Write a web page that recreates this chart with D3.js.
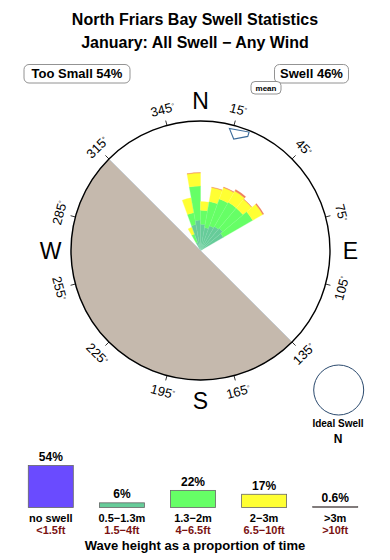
<!DOCTYPE html>
<html>
<head>
<meta charset="utf-8">
<script src="https://cdnjs.cloudflare.com/ajax/libs/d3/7.8.5/d3.min.js"></script>
<style>
body{margin:0;background:#fff;}
svg{display:block;font-family:"Liberation Sans",Arial,Helvetica,sans-serif;}
</style>
</head>
<body>
<svg width="390" height="560"></svg>
<script>
// titles
var title1="North Friars Bay Swell Statistics";
var title2="January: All Swell \u2212 Any Wind";

// rose data: direction bins (centre, deg) and % of time per wave band
var dirs=[335,345,355,5,15,25,35,45,55];
var band1=[0.1,0.9,1.2,0.9,0.7,0.9,1.0,1.1,0.9];   // 0.5-1.3m
var band2=[0.3,1.0,4.2,1.2,2.5,3.0,3.0,2.9,3.8];   // 1.3-2m
var band3=[0.4,1.8,2.4,1.0,2.1,1.9,2.1,1.8,2.0];   // 2-3m
var band4=[0,0,0.05,0,0.05,0.1,0.3,0.05,0.2];      // >3m
var bandColors=["#66cc99","#66ff66","#ffff33","#ef7f5a"];
var rMax=21.7;   // % at the outer ring

var tickAngles=[15,45,75,105,135,165,195,225,255,285,315,345];
var compass=[["N",0],["E",90],["S",180],["W",270]];
var shadeFrom=135, shadeTo=315;   // shaded (sheltered) sector
var meanDir=18;

var tooSmall="Too Small 54%";
var swellText="Swell 46%";

// legend
var legendLabels=["no swell","0.5\u22121.3m","1.3\u22122m","2\u22123m",">3m"];
var legendFeet=["<1.5ft","1.5\u22124ft","4\u22126.5ft","6.5\u221210ft",">10ft"];
var legendPct=[54,6,22,17,0.6];
var legendText=["54%","6%","22%","17%","0.6%"];
var legendColors=["#6a4bff","#66cc99","#66ff66","#ffff33","#d9a0a0"];

var svg=d3.select("svg");
var cx=200.5, cy=250.5, R=129.5;
var rad=function(a){return a*Math.PI/180;};

// titles
svg.append("text").attr("x",195).attr("y",25).attr("text-anchor","middle")
  .style("font-weight","bold").style("font-size","16px").text(title1);
svg.append("text").attr("x",195).attr("y",48).attr("text-anchor","middle")
  .style("font-weight","bold").style("font-size","16px").text(title2);

// boxes
var box=function(x,y,w,h,txt,fs,r){
  svg.append("rect").attr("x",x).attr("y",y).attr("width",w).attr("height",h)
    .attr("rx",r).attr("fill","#fff").attr("stroke","#777").attr("stroke-width",0.8);
  svg.append("text").attr("x",x+w/2).attr("y",y+h/2).attr("dy","0.36em")
    .attr("text-anchor","middle").style("font-weight","bold").style("font-size",fs+"px").text(txt);
};
box(24,64.5,106,18.5,tooSmall,13,5);
box(274.5,64.5,74,18.5,swellText,13,5);
box(251,81.5,30,12.5,"mean",8,4);

var plot=svg.append("g").attr("transform","translate("+cx+","+cy+")");

// rose
var rScale=d3.scaleSqrt().domain([0,rMax]).range([0,R]);
var arc=d3.arc();
var bands=[band1,band2,band3,band4];
var segs=[];
for(var i=0;i<dirs.length;i++){
  var cum=0;
  for(var b=0;b<bands.length;b++){
    var v=bands[b][i];
    if(v>0){
      segs.push({dir:dirs[i],lo:cum,hi:cum+v,color:bandColors[b]});
    }
    cum+=v;
  }
}
plot.selectAll("path.seg").data(segs).enter().append("path")
  .attr("class","seg")
  .attr("d",function(d){
    return arc({innerRadius:rScale(d.lo),outerRadius:rScale(d.hi),
      startAngle:rad(d.dir-5),endAngle:rad(d.dir+5)});
  })
  .attr("fill",function(d){return d.color;})
  .attr("stroke",function(d){return d.color;})
  .attr("stroke-width",0.3);
// faint bin dividers
plot.selectAll("path.div").data(dirs).enter().append("path")
  .attr("class","div")
  .attr("d",function(d,i){
    var tot=band1[i]+band2[i]+band3[i]+band4[i];
    var r=rScale(tot);
    return "M0,0L"+(r*Math.sin(rad(d-5)))+","+(-r*Math.cos(rad(d-5)));
  })
  .attr("stroke","#ffffff").attr("stroke-opacity",0.18).attr("stroke-width",0.5);

// sheltered sector
plot.append("path")
  .attr("d",arc({innerRadius:0,outerRadius:R,startAngle:rad(shadeFrom),endAngle:rad(shadeTo)}))
  .attr("fill","#c5b9ad").attr("stroke","#b4c2d0").attr("stroke-width",0.6);

// outer ring
plot.append("circle").attr("r",R).attr("fill","none").attr("stroke","#000").attr("stroke-width",1.4);

// ticks
plot.selectAll("line.tick").data(tickAngles).enter().append("line")
  .attr("class","tick")
  .attr("x1",function(d){return R*Math.sin(rad(d));})
  .attr("y1",function(d){return -R*Math.cos(rad(d));})
  .attr("x2",function(d){return (R+5)*Math.sin(rad(d));})
  .attr("y2",function(d){return -(R+5)*Math.cos(rad(d));})
  .attr("stroke","#000").attr("stroke-width",0.8);

var lbl=plot.selectAll("text.deg").data(tickAngles).enter().append("text")
  .attr("class","deg")
  .attr("text-anchor","middle")
  .attr("transform",function(d){
    var rot=d;
    if(rot>90&&rot<270){rot-=180;}else if(rot>=270){rot-=360;}
    var x=146*Math.sin(rad(d)), y=-146*Math.cos(rad(d));
    return "translate("+x+","+y+")rotate("+rot+")";
  })
  .attr("dy","0.35em")
  .style("font-size","13px");
lbl.append("tspan").text(function(d){return d;});
lbl.append("tspan").attr("dy","-0.45em").style("font-size","7px").text("\u00b0");

plot.selectAll("text.cmp").data(compass).enter().append("text")
  .attr("class","cmp")
  .attr("x",function(d){return 150*Math.sin(rad(d[1]));})
  .attr("y",function(d){return -150*Math.cos(rad(d[1]));})
  .attr("dy","0.36em").attr("text-anchor","middle")
  .style("font-size","23px").text(function(d){return d[0];});

// mean direction marker
var mk=[[-4.7,125.5],[-1.4,116.3],[4.5,123.5],[4.3,128]];
plot.append("path")
  .attr("d",d3.line()(mk.map(function(p){
    var a=rad(meanDir+p[0]);
    return [p[1]*Math.sin(a),-p[1]*Math.cos(a)];
  }))+"Z")
  .attr("fill","none").attr("stroke","#3a6a9a").attr("stroke-width",1.1);

// ideal swell
svg.append("circle").attr("cx",338.7).attr("cy",390).attr("r",25)
  .attr("fill","none").attr("stroke","#2b4a6e").attr("stroke-width",1);
svg.append("text").attr("x",338).attr("y",427).attr("text-anchor","middle")
  .style("font-weight","bold").style("font-size","10px").text("Ideal Swell");
svg.append("text").attr("x",338).attr("y",443).attr("text-anchor","middle")
  .style("font-weight","bold").style("font-size","12px").text("N");

// legend bars
var lx=d3.scalePoint().domain(d3.range(legendPct.length)).range([50.8,335.2]);
var lh=d3.scaleLinear().domain([0,54]).range([0,42]);
var base=507.5, bw=45;
var leg=svg.append("g");
leg.selectAll("rect").data(legendPct).enter().append("rect")
  .attr("x",function(d,i){return lx(i)-bw/2;})
  .attr("y",function(d){return base-Math.max(lh(d),1);})
  .attr("width",bw)
  .attr("height",function(d){return Math.max(lh(d),1);})
  .attr("fill",function(d,i){return legendColors[i];})
  .attr("stroke","#666").attr("stroke-width",0.8);
leg.selectAll("text.pct").data(legendPct).enter().append("text")
  .attr("class","pct")
  .attr("x",function(d,i){return lx(i);})
  .attr("y",function(d){return base-Math.max(lh(d),1)-4.5;})
  .attr("text-anchor","middle").style("font-weight","bold").style("font-size","12px")
  .text(function(d,i){return legendText[i];});
leg.selectAll("text.lab").data(legendLabels).enter().append("text")
  .attr("class","lab")
  .attr("x",function(d,i){return lx(i);}).attr("y",522)
  .attr("text-anchor","middle").style("font-weight","bold").style("font-size","11px")
  .text(function(d){return d;});
leg.selectAll("text.ft").data(legendFeet).enter().append("text")
  .attr("class","ft")
  .attr("x",function(d,i){return lx(i);}).attr("y",534)
  .attr("text-anchor","middle").style("font-weight","bold").style("font-size","11px")
  .attr("fill","#7a1212")
  .text(function(d){return d;});
svg.append("text").attr("x",195).attr("y",550).attr("text-anchor","middle")
  .style("font-weight","bold").style("font-size","13px").text("Wave height as a proportion of time");
</script>
</body>
</html>
